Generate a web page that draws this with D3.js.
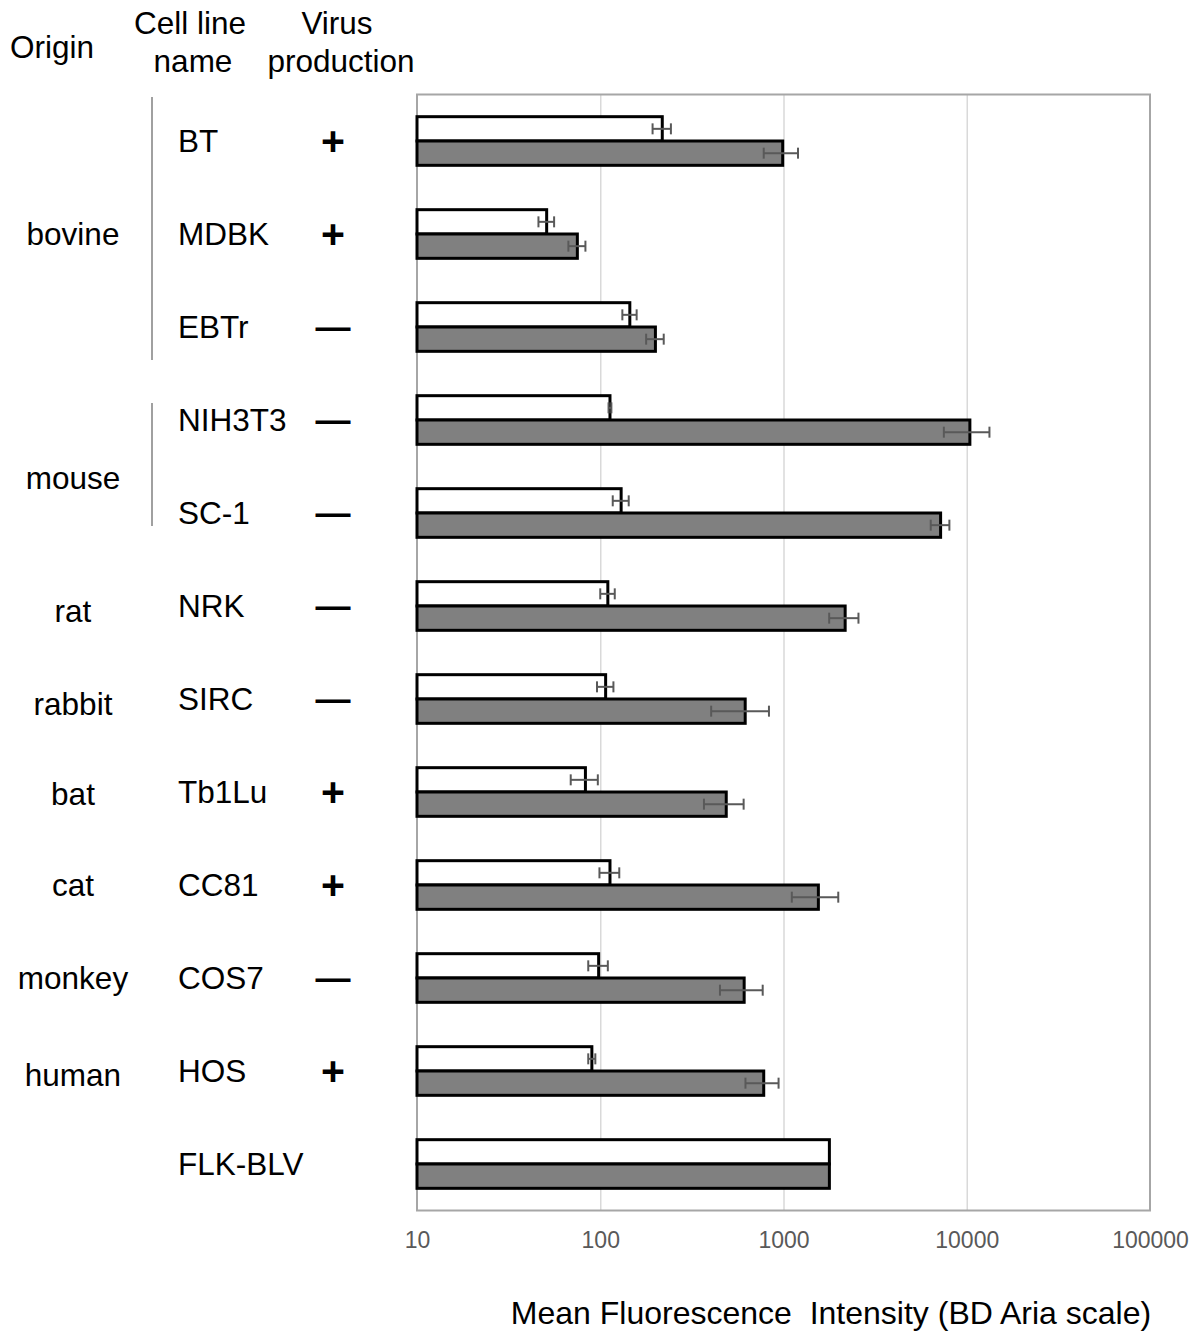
<!DOCTYPE html>
<html>
<head>
<meta charset="utf-8">
<script src="https://cdn.jsdelivr.net/npm/d3@7"></script>
<style>
  body { margin: 0; background: #fff; }
  text { font-family: "Liberation Sans", Arial, sans-serif; }
</style>
</head>
<body>
<svg id="chart" width="1193" height="1331"></svg>
<script>
// cell lines, top to bottom
var cells = ["BT", "MDBK", "EBTr", "NIH3T3", "SC-1", "NRK", "SIRC", "Tb1Lu", "CC81", "COS7", "HOS", "FLK-BLV"]
var virus = ["+", "+", "\u2014", "\u2014", "\u2014", "\u2014", "\u2014", "+", "+", "\u2014", "+", ""]

// white bars (upper) and grey bars (lower), MFI with error
var whiteVals = [218, 51, 145, 113, 130, 110, 107, 83, 113, 98, 90, 1780]
var whiteErr  = [25, 5, 13, 2, 13, 10, 11, 14, 14, 12, 4, 0]
var greyVals  = [990, 75, 200, 10400, 7200, 2170, 618, 487, 1550, 610, 780, 1780]
var greyErr   = [210, 8, 22, 2900, 840, 395, 215, 119, 440, 160, 160, 0]

var origins = ["bovine", "mouse", "rat", "rabbit", "bat", "cat", "monkey", "human"]
var originFirst = ["BT", "NIH3T3", "NRK", "SIRC", "Tb1Lu", "CC81", "COS7", "HOS"]
var originLast  = ["EBTr", "SC-1", "NRK", "SIRC", "Tb1Lu", "CC81", "COS7", "HOS"]

var xTicks = [10, 100, 1000, 10000, 100000]

var margin = {left: 417, right: 43, top: 94.5, bottom: 120.5}
var width = 1193, height = 1331
var fs = 31.5

var svg = d3.select("#chart")

var x = d3.scaleLog()
    .domain([10, 100000])
    .range([margin.left, width - margin.right])

var y = d3.scaleBand()
    .domain(cells)
    .range([margin.top, height - margin.bottom])
    .paddingInner(0.477)
    .paddingOuter(0.2385)

var sub = d3.scaleBand()
    .domain(["white", "grey"])
    .range([0, y.bandwidth()])

var plotBottom = height - margin.bottom

// gridlines
svg.append("g")
    .attr("transform", "translate(0," + plotBottom + ")")
    .call(d3.axisBottom(x).tickValues(xTicks.slice(1, -1)).tickSize(-(plotBottom - margin.top)).tickFormat(""))
    .call(g => g.select(".domain").remove())
    .selectAll("line").attr("stroke", "#d9d9d9").attr("stroke-width", 1.5)

// frame
svg.append("rect")
    .attr("x", x(10)).attr("y", margin.top)
    .attr("width", x(100000) - x(10))
    .attr("height", plotBottom - margin.top)
    .attr("fill", "none")
    .attr("stroke", "#a6a6a6")
    .attr("stroke-width", 2)

// tick labels
var xAxis = svg.append("g")
    .attr("transform", "translate(0," + plotBottom + ")")
    .call(d3.axisBottom(x).tickValues(xTicks).tickFormat(d3.format("d")).tickSize(0).tickPadding(21))
xAxis.select(".domain").remove()
xAxis.selectAll("text")
    .style("font-family", "'Liberation Sans', Arial, sans-serif")
    .style("font-size", "23px")
    .attr("fill", "#595959")

svg.append("text")
    .attr("x", 831).attr("y", 1324)
    .attr("text-anchor", "middle")
    .style("font-size", "32px")
    .style("white-space", "pre")
    .attr("xml:space", "preserve")
    .text("Mean Fluorescence  Intensity (BD Aria scale)")

// bars
var series = [
    {key: "white", vals: whiteVals, errs: whiteErr, fill: "#ffffff"},
    {key: "grey", vals: greyVals, errs: greyErr, fill: "#808080"}
]

series.forEach(function(s) {
    var rows = cells.map(function(c, i) { return {cell: c, v: s.vals[i], e: s.errs[i]} })
    var g = svg.append("g")
    g.selectAll("rect")
        .data(rows)
        .enter()
        .append("rect")
            .attr("x", x(10))
            .attr("y", d => y(d.cell) + sub(s.key))
            .attr("width", d => x(d.v) - x(10))
            .attr("height", sub.bandwidth())
            .attr("fill", s.fill)
            .attr("stroke", "#000")
            .attr("stroke-width", 3)
    s.rows = rows
})

// error bars on top
series.forEach(function(s) {
    var eb = svg.append("g")
        .attr("stroke", "#595959")
        .attr("stroke-width", 2)
        .selectAll("g")
        .data(s.rows.filter(d => d.e > 0))
        .enter()
        .append("g")
        .attr("transform", d => "translate(0," + (y(d.cell) + sub(s.key) + sub.bandwidth() / 2) + ")")
    eb.append("line")
        .attr("x1", d => x(d.v - d.e)).attr("x2", d => x(d.v + d.e))
    eb.append("line")
        .attr("x1", d => x(d.v - d.e)).attr("x2", d => x(d.v - d.e))
        .attr("y1", -5.5).attr("y2", 5.5)
    eb.append("line")
        .attr("x1", d => x(d.v + d.e)).attr("x2", d => x(d.v + d.e))
        .attr("y1", -5.5).attr("y2", 5.5)
})

function rowMid(c) { return y(c) + y.bandwidth() / 2 }

// headers
var head = svg.append("g").style("font-size", fs + "px").attr("text-anchor", "middle")
head.append("text").attr("x", 52).attr("y", 58).text("Origin")
head.append("text").attr("x", 190).attr("y", 34).text("Cell line")
head.append("text").attr("x", 193).attr("y", 72).text("name")
head.append("text").attr("x", 337).attr("y", 34).text("Virus")
head.append("text").attr("x", 341).attr("y", 72).text("production")

// cell line names
svg.append("g").selectAll("text")
    .data(cells)
    .enter()
    .append("text")
        .attr("x", 178)
        .attr("y", d => rowMid(d) + 0.35 * fs)
        .style("font-size", fs + "px")
        .text(d => d)

// virus production +/-
svg.append("g").selectAll("text")
    .data(cells.map((c, i) => ({cell: c, s: virus[i]})).filter(d => d.s))
    .enter()
    .append("text")
        .attr("x", 333)
        .attr("y", d => rowMid(d.cell) + (d.s == "+" ? 14 : 12))
        .attr("text-anchor", "middle")
        .style("font-weight", "bold")
        .style("font-size", d => d.s == "+" ? "41px" : "35px")
        .text(d => d.s)

// origin labels and brackets
var nudge = {bovine: 0, mouse: 11, rat: 5, rabbit: 5, bat: 2, cat: 0, monkey: 0, human: 4}
var bracket = {bovine: [-44, 33], mouse: [-17, 13]}

origins.forEach(function(o, i) {
    var y0 = rowMid(originFirst[i]), y1 = rowMid(originLast[i])
    svg.append("text")
        .attr("x", 73)
        .attr("y", (y0 + y1) / 2 + nudge[o] + 0.35 * fs)
        .attr("text-anchor", "middle")
        .style("font-size", fs + "px")
        .text(o)
    if (bracket[o]) {
        svg.append("line")
            .attr("x1", 152).attr("x2", 152)
            .attr("y1", y0 + bracket[o][0])
            .attr("y2", y1 + bracket[o][1])
            .attr("stroke", "#808080")
            .attr("stroke-width", 1.5)
    }
})
</script>
</body>
</html>
